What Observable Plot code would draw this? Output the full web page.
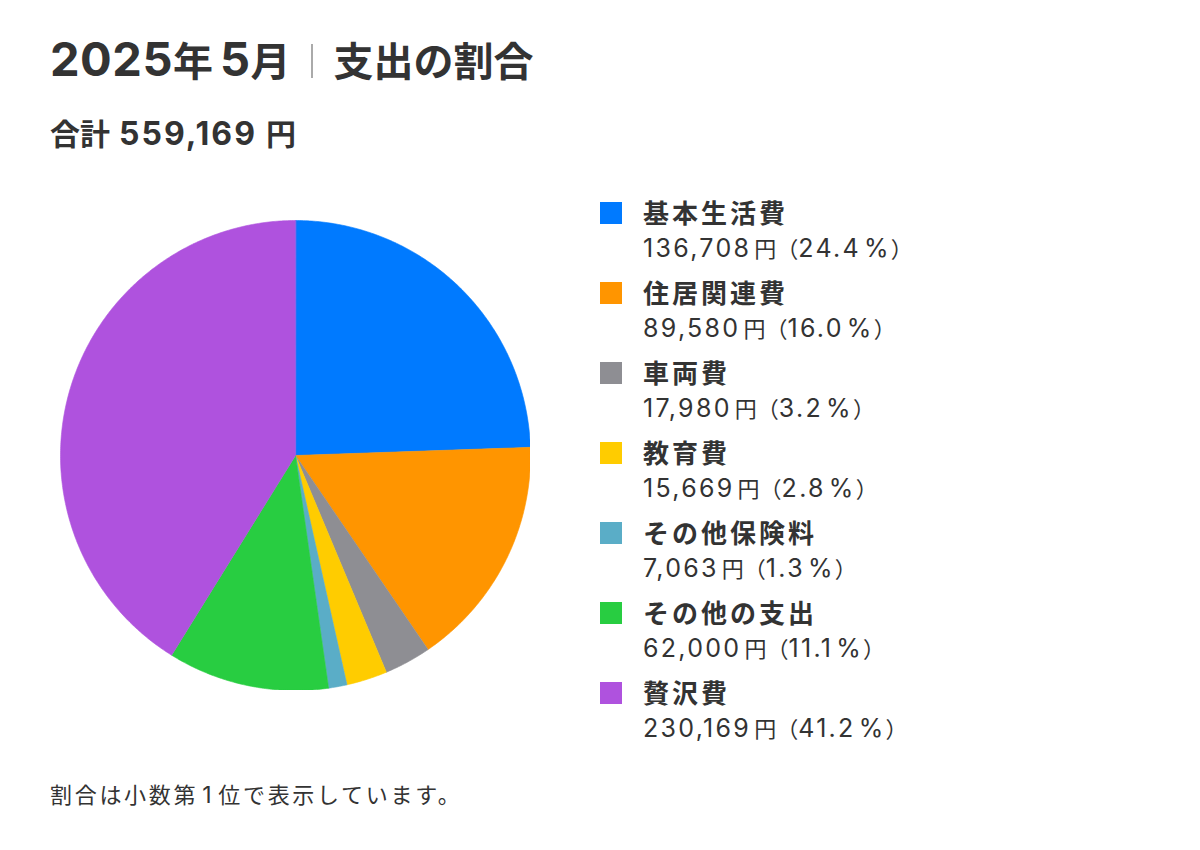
<!DOCTYPE html>
<html>
<head>
<meta charset="utf-8">
<script src="https://cdn.jsdelivr.net/npm/d3@7"></script>
<script src="https://cdn.jsdelivr.net/npm/@observablehq/plot@0.6"></script>
<style>
  html, body { margin: 0; padding: 0; background: #fff; }
  body { width: 1200px; height: 850px; position: relative; overflow: hidden;
         font-family: "Noto Sans CJK JP", "Noto Sans", sans-serif; color: #333; }
  .abs { position: absolute; white-space: nowrap; }
  .lat { font-family: Inter, Roboto, sans-serif; }
  #title { left: 50px; top: 32px; font-size: 40px; font-weight: 700; line-height: 54px; }
  #title .lat { font-size: 47px; letter-spacing: 0.5px; }
  #title .bar { display: inline-block; width: 2px; height: 34px; background: #aaa; margin: 0 21px 0 20px; vertical-align: -2px; }
  #title .gap { display: inline-block; width: 7px; }
  #subtitle { left: 50px; top: 112px; font-size: 30px; font-weight: 700; line-height: 40px; }
  #subtitle .lat { font-size: 32px; letter-spacing: 2px; }
  #subtitle .gap { display: inline-block; width: 9px; }
  #chart { left: 60px; top: 220px; }
  #legend { left: 600px; top: 196px; }
  .item { position: relative; height: 80px; }
  .sw { position: absolute; left: 0; top: 6px; width: 22px; height: 22px; }
  .lab { position: absolute; left: 43px; top: -3px; font-size: 26px; font-weight: 700; line-height: 38px; letter-spacing: 3px; }
  .val { position: absolute; left: 43px; top: 34px; font-size: 22px; font-weight: 400; line-height: 34px; }
  .val .lat { font-size: 25px; letter-spacing: 2.3px; }
  .val .gap { display: inline-block; width: 3px; }
  #note { left: 50px; top: 777px; font-size: 22px; line-height: 32px; letter-spacing: 2.7px; }
  #note .lat { font-size: 23px; margin: 0 4px; }
</style>
</head>
<body>
<div id="title" class="abs"></div>
<div id="subtitle" class="abs"></div>
<div id="chart" class="abs"></div>
<div id="legend" class="abs"></div>
<div id="note" class="abs"></div>
<script>
const categories = ["基本生活費", "住居関連費", "車両費", "教育費", "その他保険料", "その他の支出", "贅沢費"];
const amounts = [136708, 89580, 17980, 15669, 7063, 62000, 230169];
const percentLabels = ["24.4", "16.0", "3.2", "2.8", "1.3", "11.1", "41.2"];
const colors = ["#007AFF", "#FF9500", "#8E8E93", "#FFCC00", "#5AADC7", "#28CD41", "#AF52DE"];
const titleParts = ["2025年 5月", "支出の割合"];
const totalLabel = "合計 559,169 円";
const noteText = "割合は小数第1位で表示しています。";

// wrap Latin runs in a span; spaces become small gaps
function rich(s) {
  return s.split(" ")
    .map(part => part.replace(/[0-9.,%]+/g, m => '<span class="lat">' + m + '</span>'))
    .join('<span class="gap"></span>');
}

document.getElementById("title").innerHTML = rich(titleParts[0]) + '<span class="bar"></span>' + titleParts[1];
document.getElementById("subtitle").innerHTML = rich(totalLabel);
document.getElementById("note").innerHTML = rich(noteText);

// slice polygons from the data (angles via d3.pie, clockwise from 12 o'clock)
const arcs = d3.pie().sort(null).value(d => d.amount)(categories.map((c, i) => ({category: c, amount: amounts[i]})));
const pts = [];
arcs.forEach(a => {
  const cat = a.data.category;
  pts.push({category: cat, x: 0, y: 0});
  const n = Math.max(2, Math.ceil((a.endAngle - a.startAngle) / (Math.PI / 360)));
  for (let k = 0; k <= n; k++) {
    const t = a.startAngle + (a.endAngle - a.startAngle) * k / n;
    pts.push({category: cat, x: Math.sin(t), y: Math.cos(t)});
  }
});

const size = 470;
const plot = Plot.plot({
  width: size, height: size,
  margin: 0,
  x: {domain: [-1, 1], axis: null},
  y: {domain: [-1, 1], axis: null},
  color: {domain: categories, range: colors},
  marks: [
    Plot.line(pts, {x: "x", y: "y", z: "category", fill: "category", stroke: "category", strokeWidth: 0.6, curve: "linear-closed"})
  ]
});
document.getElementById("chart").appendChild(plot);

const legend = document.getElementById("legend");
categories.forEach((c, i) => {
  const it = document.createElement("div");
  it.className = "item";
  it.innerHTML = '<div class="sw" style="background:' + colors[i] + '"></div>' +
    '<div class="lab">' + c + '</div>' +
    '<div class="val">' + rich(d3.format(",")(amounts[i]) + " 円（" + percentLabels[i] + " %）") + '</div>';
  legend.appendChild(it);
});
</script>
</body>
</html>
